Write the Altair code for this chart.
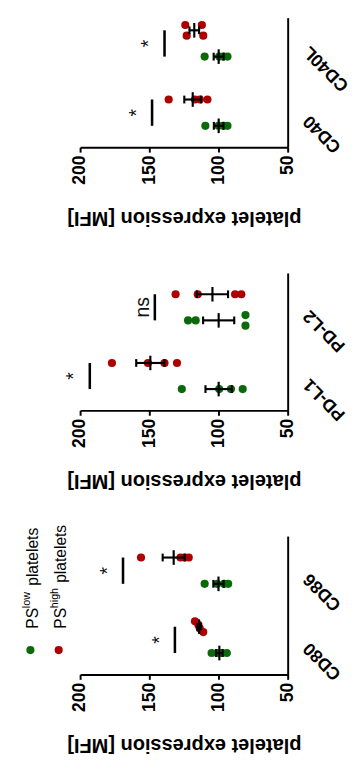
import altair as alt
import pandas as pd

# ---------------- data ----------------
groups = ["PS low", "PS high"]
categories = ["CD40", "CD40L", "PD-L1", "PD-L2", "CD80", "CD86"]

cd40_low = [109.5, 100, 96.5, 93.5]
cd40_high = [136, 117, 113.5, 108]
cd40l_low = [110, 99.5, 96.5, 93.5]
cd40l_high = [124, 123, 112, 111]
pdl1_low = [126.5, 99.5, 91, 82.5]
pdl1_high = [177, 151, 139, 130]
pdl2_low = [122, 116.5, 80.5, 80.5]
pdl2_high = [131, 115, 88, 83.5]
cd80_low = [105, 101, 97.5, 94]
cd80_high = [117, 114.5, 113.5, 111]
cd86_low = [110, 101, 96, 93]
cd86_high = [156, 127.5, 124.5, 121.5]

sig_bar = [148, 139, 193, 146, 131.5, 169]
sig_text = ["*", "*", "*", "ns", "*", "*"]

x_ticks = [50, 100, 150, 200]
legend_sup = ["low", "high"]

# panels from top of page to bottom; categories listed bottom-to-top
panels = [["CD40", "CD40L"], ["PD-L1", "PD-L2"], ["CD80", "CD86"]]

GREEN = "#0a6a0a"
RED = "#ad0000"
FONT = "Liberation Sans"

low_lists = [cd40_low, cd40l_low, pdl1_low, pdl2_low, cd80_low, cd86_low]
high_lists = [cd40_high, cd40l_high, pdl1_high, pdl2_high, cd80_high, cd86_high]

GOFF = 0.19      # group offset inside a band (band units)
SPREAD = 11 / 71  # width used to spread overlapping dots


def spread(vals, d=3.0):
    order = sorted(range(len(vals)), key=lambda i: -vals[i])
    offs = [0.0] * len(vals)
    clusters = []
    for i in order:
        if clusters and vals[clusters[-1][-1]] - vals[i] < d:
            clusters[-1].append(i)
        else:
            clusters.append([i])
    for c in clusters:
        k = len(c)
        if k > 1:
            for j, i in enumerate(c):
                offs[i] = SPREAD * (0.5 - j / (k - 1))
    return offs


rows = []
sig_rows = []
for cat, lo, hi, sb, st in zip(categories, low_lists, high_lists, sig_bar, sig_text):
    idx = next(p.index(cat) for p in panels if cat in p)
    center = idx + 0.5
    for grp, vals in ((groups[0], lo), (groups[1], hi)):
        gpos = center - GOFF if grp == groups[0] else center + GOFF
        for v, o in zip(vals, spread(vals)):
            rows.append(dict(cat=cat, group=grp, value=v, gpos=gpos, pt=gpos + o))
    sig_rows.append(dict(cat=cat, bar=sb, label=st,
                         lx=sb + (11 if st == "*" else 8.5),
                         y1=center - GOFF, y2=center + GOFF, yc=center))

df = pd.DataFrame(rows)
sig = pd.DataFrame(sig_rows)

MEAN_H = 7.5 / 71
CAP_H = 4 / 71


def panel(cats, height, ymax, with_legend=False):
    xs = alt.Scale(domain=[50, 200], reverse=True, nice=False, zero=False)
    ys = alt.Scale(domain=[0, ymax], nice=False, zero=False)
    xaxis = alt.Axis(values=x_ticks, labelAngle=270, labelAlign="right",
                     labelBaseline="middle", labelPadding=3,
                     title="platelet expression [MFI]", titleAngle=180,
                     titleBaseline="bottom", titlePadding=24, grid=False)
    yaxis = alt.Axis(orient="right", values=[0.5, 1.5],
                     labelExpr=f"datum.value < 1 ? '{cats[0]}' : '{cats[1]}'",
                     labelAngle=225, labelAlign="right", labelBaseline="middle",
                     labelPadding=19, labelOffset=5, ticks=False, grid=False, title="")
    pdata = df[df.cat.isin(cats)]
    sdata = sig[sig.cat.isin(cats)]
    base = alt.Chart(pdata)

    def X(f):
        return alt.X(f, scale=xs, axis=xaxis)

    def Y(f):
        return alt.Y(f, scale=ys, axis=yaxis)

    points = base.mark_circle(size=70, opacity=1).encode(
        x=X("value:Q"), y=Y("pt:Q"),
        color=alt.Color("group:N", scale=alt.Scale(domain=groups, range=[GREEN, RED]), legend=None),
    )
    stats = base.transform_aggregate(
        mean="mean(value)", sem="stderr(value)", groupby=["cat", "group", "gpos"]
    ).transform_calculate(
        lo="datum.mean - datum.sem", hi="datum.mean + datum.sem",
        m1=f"datum.gpos - {MEAN_H}", m2=f"datum.gpos + {MEAN_H}",
        c1=f"datum.gpos - {CAP_H}", c2=f"datum.gpos + {CAP_H}",
    )
    rule_kw = dict(color="black", strokeWidth=2.2)
    hbar = stats.mark_rule(**rule_kw).encode(x=X("lo:Q"), x2="hi:Q", y=Y("gpos:Q"))
    meanl = stats.mark_rule(**rule_kw).encode(x=X("mean:Q"), y=Y("m1:Q"), y2="m2:Q")
    cap1 = stats.mark_rule(**rule_kw).encode(x=X("lo:Q"), y=Y("c1:Q"), y2="c2:Q")
    cap2 = stats.mark_rule(**rule_kw).encode(x=X("hi:Q"), y=Y("c1:Q"), y2="c2:Q")

    sbase = alt.Chart(sdata)
    sbar = sbase.mark_rule(color="black", strokeWidth=2.6).encode(
        x=X("bar:Q"), y=Y("y1:Q"), y2="y2:Q")
    stext = sbase.mark_text(angle=270, fontSize=20, font=FONT, color="#111",
                            align="center", baseline="middle").encode(
        x=X("lx:Q"), y=Y("yc:Q"), text="label:N")

    layers = [points, hbar, meanl, cap1, cap2, sbar, stext]

    if with_legend:
        one = alt.Chart(pd.DataFrame({"k": [0]}))
        colors = [GREEN, RED]
        dot_x = [-51, -22]
        base_x = [-43.7, -14.3]
        for i in range(2):
            layers.append(one.mark_circle(size=70, opacity=1).encode(
                x=alt.value(dot_x[i]), y=alt.value(117), color=alt.value(colors[i])))
            layers.append(one.mark_text(angle=270, align="left", baseline="alphabetic",
                                        fontSize=16, font=FONT, color="black").encode(
                x=alt.value(base_x[i]), y=alt.value(95), text=alt.value("PS")))
            layers.append(one.mark_text(angle=270, align="left", baseline="alphabetic",
                                        fontSize=11, font=FONT, color="black").encode(
                x=alt.value(base_x[i] - 8), y=alt.value(74), text=alt.value(legend_sup[i])))
            layers.append(one.mark_text(angle=270, align="left", baseline="alphabetic",
                                        fontSize=16, font=FONT, color="black").encode(
                x=alt.value(base_x[i]), y=alt.value(51 if i == 0 else 48),
                text=alt.value("platelets")))

    return alt.layer(*layers).properties(width=213, height=height)


p3 = panel(panels[0], 133, 1.873)
p2 = panel(panels[1], 141, 2)
p1 = panel(panels[2], 142, 2, with_legend=True)

chart = alt.vconcat(p3, p2, p1, spacing=129, bounds="flush").properties(
    padding={"left": 13, "top": 0, "right": 0, "bottom": 0}
).configure_view(stroke=None).configure_axis(
    labelFont=FONT, titleFont=FONT, labelFontSize=18, labelFontWeight="bold",
    titleFontSize=20.5, titleFontWeight="bold", labelColor="black", titleColor="black",
    domainColor="black", domainWidth=2, tickColor="black", tickWidth=2, tickSize=5,
)

chart.save("out.html", embed_options={"renderer": "svg", "actions": False})
